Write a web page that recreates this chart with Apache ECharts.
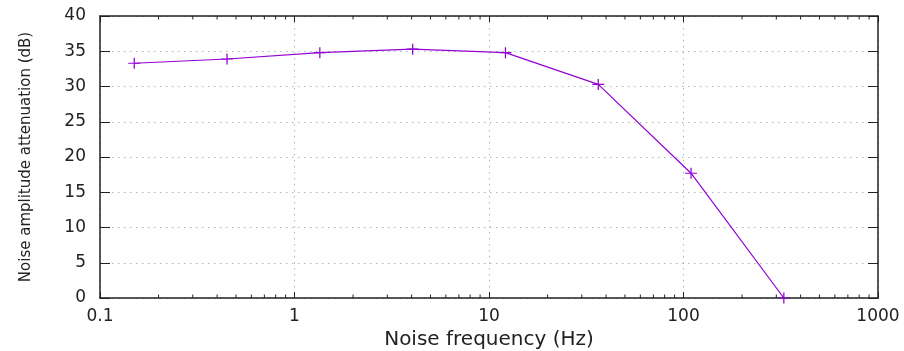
<!DOCTYPE html>
<html>
<head>
<meta charset="utf-8">
<script src="https://cdn.jsdelivr.net/npm/echarts@6/dist/echarts.min.js"></script>
<style>
  html, body { margin: 0; padding: 0; background: #fff; }
  #chart { width: 904px; height: 351px; }
</style>
</head>
<body>
<div id="chart"></div>
<script>
// measured points (Hz, dB)
const freqs = [0.15, 0.45, 1.35, 4.05, 12.15, 36.45, 109.35, 328];
const attenuation = [33.3, 33.9, 34.8, 35.3, 34.8, 30.3, 17.7, 0];

// log axis minor ticks (2..9 in each decade)
const minorTicks = [
    0.2, 0.3, 0.4, 0.5, 0.6, 0.7, 0.8, 0.9,
    2, 3, 4, 5, 6, 7, 8, 9,
    20, 30, 40, 50, 60, 70, 80, 90,
    200, 300, 400, 500, 600, 700, 800, 900
];

const xName = 'Noise frequency (Hz)';
const yName = 'Noise amplitude attenuation (dB)';

const chart = echarts.init(document.getElementById('chart'));

const lineColor = '#9400d3';
const borderColor = '#222';
const gridColor = '#b4b4b4';
const font = 'DejaVu Sans';

const logAxisBase = {
    type: 'log',
    logBase: 10,
    min: 0.1,
    max: 1000,
    axisLine: { show: true, onZero: false, lineStyle: { color: borderColor, width: 1.5 } },
    axisTick: { show: true, inside: true, length: 6, lineStyle: { color: borderColor, width: 1 } }
};

const valAxisBase = {
    type: 'value',
    min: 0,
    max: 40,
    interval: 5,
    axisLine: { show: true, onZero: false, lineStyle: { color: borderColor, width: 1.5 } },
    axisTick: { show: true, inside: true, length: 10, lineStyle: { color: borderColor, width: 1 } }
};

const option = {
    animation: false,
    backgroundColor: '#fff',
    grid: { left: 100, right: 26, top: 16, bottom: 53, outerBoundsMode: 'none' },
    xAxis: [
        Object.assign({}, logAxisBase, {
            position: 'bottom',
            name: xName,
            nameLocation: 'middle',
            nameGap: 30,
            nameTextStyle: { fontFamily: font, fontSize: 20, color: '#222' },
            axisLabel: {
                margin: 10,
                fontFamily: font,
                fontSize: 17,
                color: '#222',
                formatter: (v) => String(+(+v).toPrecision(3))
            },
            splitLine: { show: true, lineStyle: { color: gridColor, width: 1, type: [1.5, 4.5] } }
        }),
        Object.assign({}, logAxisBase, {
            position: 'top',
            axisLabel: { show: false },
            splitLine: { show: false }
        })
    ],
    yAxis: [
        Object.assign({}, valAxisBase, {
            position: 'left',
            name: yName,
            nameLocation: 'middle',
            nameGap: 66,
            nameTextStyle: { fontFamily: font, fontSize: 15, color: '#222' },
            axisLabel: { margin: 14, fontFamily: font, fontSize: 17, color: '#222' },
            splitLine: { show: true, lineStyle: { color: gridColor, width: 1, type: [1.5, 4.5] } }
        }),
        Object.assign({}, valAxisBase, {
            position: 'right',
            axisLabel: { show: false },
            splitLine: { show: false }
        })
    ],
    series: [
        {
            type: 'custom',
            silent: true,
            clip: false,
            z: 3,
            data: minorTicks.map((v) => [v, 0]),
            renderItem: (params, api) => {
                const v = api.value(0);
                const b = api.coord([v, 0]);
                const t = api.coord([v, 40]);
                const st = { stroke: borderColor, lineWidth: 1 };
                return {
                    type: 'group',
                    children: [
                        { type: 'line', shape: { x1: b[0], y1: b[1], x2: b[0], y2: b[1] - 3.5 }, style: st },
                        { type: 'line', shape: { x1: t[0], y1: t[1], x2: t[0], y2: t[1] + 3.5 }, style: st }
                    ]
                };
            }
        },
        {
            type: 'line',
            data: freqs.map((f, i) => [f, attenuation[i]]),
            clip: false,
            showAllSymbol: true,
            symbol: 'path://M0,5H10M5,0V10',
            symbolSize: [12, 11],
            lineStyle: { color: lineColor, width: 1.2 },
            itemStyle: { color: 'rgba(0,0,0,0)', borderColor: lineColor, borderWidth: 1.2 },
            z: 5
        }
    ]
};

chart.setOption(option);
</script>
</body>
</html>
